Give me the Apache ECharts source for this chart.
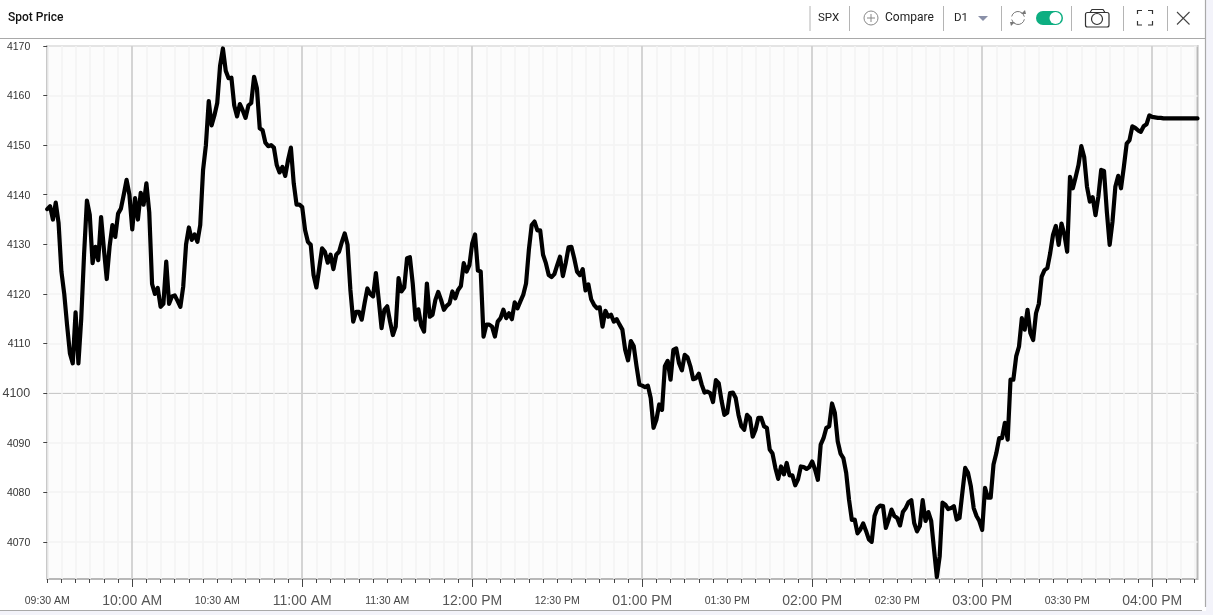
<!DOCTYPE html>
<html><head><meta charset="utf-8">
<style>html,body{margin:0;padding:0;background:#fff;overflow:hidden}#c{width:1213px;height:615px}</style>
<script src="https://cdn.jsdelivr.net/npm/echarts@6/dist/echarts.min.js"></script>
</head><body><div id="c"></div>
<script>
const priceValues = [
4137.1,4137.7,4135,4138.4,4134.3,4124.5,4120,4113.7,4108,4106,
4116.3,4106,4115,4128,4138.8,4136,4126.2,4129.5,4126.8,4135.5,
4129,4123,4129.5,4133.9,4131.5,4136.2,4137.2,4140,4143,4140,
4133,4139.3,4135,4140.4,4138,4142.3,4136.5,4122,4120,4121.2,
4117.4,4118,4126.5,4118,4119.5,4119.7,4118.6,4117.4,4121.5,4130,
4133.4,4130.9,4132,4130.5,4133.9,4145,4150,4158.9,4154,4156,
4158.5,4166,4169.5,4165,4163.5,4163.6,4158,4155.8,4158.3,4157,
4155.5,4158,4158.5,4163.8,4161.5,4153.4,4153,4150.5,4149.8,4150,
4149.5,4146,4144.5,4145.6,4143.8,4147,4149.5,4142.3,4138,4138,
4137.5,4132.9,4130.5,4129.9,4123.8,4121.3,4125.2,4129.2,4128.5,4126.3,
4127.9,4125,4127.9,4128.5,4130.5,4132.2,4129.9,4120.8,4114.4,4116.4,
4116.4,4114.8,4118.1,4121.1,4120,4119.5,4124.2,4118.8,4113.1,4116.8,
4117.5,4114.4,4111.7,4113.4,4123.2,4120.5,4121.3,4127.2,4127.4,4122.1,
4114.8,4116.9,4113.6,4112.4,4122.1,4115.4,4115.8,4118.8,4120.4,4118.8,
4116.8,4117.6,4118.1,4120.5,4119.1,4120.8,4121.6,4126.2,4124.5,4125.8,
4130.2,4132,4124.7,4124.5,4111.4,4113.8,4113.8,4113.4,4111.4,4114.4,
4115.1,4116.8,4115.1,4116.1,4114.9,4118.3,4117.1,4118.5,4119.8,4122.1,
4128.9,4133.9,4134.6,4132.8,4132.8,4127.9,4126.2,4123.8,4123.4,4124,
4125.8,4127.5,4123.6,4126.2,4129.4,4129.5,4127.2,4124.5,4123.8,4125,
4120.7,4121.9,4118.9,4117.8,4117.1,4117.3,4113.4,4116.6,4115.4,4115.8,
4114.4,4114.9,4113.8,4112.8,4108.7,4106.6,4110.5,4109.5,4105.4,4101.7,
4101.5,4101.2,4101.5,4099,4093,4094.6,4097.7,4096.6,4105.4,4106.5,
4102.7,4108.7,4109,4106,4104.6,4107.7,4107.2,4105.4,4102.8,4103,
4103.9,4101.7,4100.1,4100.3,4100,4098.2,4102.6,4102,4098.5,4095.6,
4096,4100,4100.1,4099,4095.6,4093.3,4092.6,4095.6,4095,4091.2,
4092.6,4095,4095,4093.3,4093,4088.6,4087.8,4084.9,4082.7,4085.2,
4083.6,4085.9,4083.4,4083.4,4081.4,4082.6,4085.2,4085.1,4084.7,4085.1,
4086.2,4084.6,4082.5,4089.6,4090.9,4093,4093.3,4097.9,4096,4090.3,
4087.8,4086.9,4083.9,4078.5,4074.4,4074.5,4071.7,4072.5,4073.7,4072.2,
4070.5,4070,4075.2,4076.8,4077.3,4077.2,4072.8,4074.5,4076.5,4075.2,
4074.8,4073.3,4076,4076.8,4078,4078.4,4073.8,4072.1,4073.2,4078.4,
4074.2,4076,4074.2,4068.5,4062.9,4067.1,4077.9,4077.5,4076.6,4076.8,
4077.2,4074.5,4074.8,4079.9,4084.9,4083.9,4081.2,4076.8,4075.2,4074.2,
4072.4,4080.9,4078.9,4078.9,4085.6,4087.9,4090.9,4090.9,4094,4090.6,
4102.7,4102.7,4107.4,4109.4,4115.1,4112.8,4116.8,4112.1,4110.7,4116.1,
4118,4123.5,4124.8,4125.2,4128.2,4131.9,4133.7,4129.9,4134.2,4132,
4128.5,4143.6,4141.3,4143.6,4146,4149.8,4147.6,4141.6,4138.6,4139.5,
4135.9,4139.6,4145,4144.8,4136.6,4129.9,4134.6,4141.6,4143.8,4141.3,
4145.6,4150.3,4151,4153.8,4153.5,4153,4152.7,4153.8,4154.2,4156,
4155.7,4155.6,4155.5,4155.5,4155.4,4155.4,4155.4,4155.4,4155.4,4155.4,
4155.4,4155.4,4155.4,4155.4,4155.4,4155.4,4155.4
];
const minuteLabels = [];
for (let i = 0; i < priceValues.length; i++) {
  const total = 570 + i, h24 = Math.floor(total / 60), mm = total % 60;
  const h12 = h24 > 12 ? h24 - 12 : h24;
  minuteLabels.push(String(h12).padStart(2, '0') + ':' + String(mm).padStart(2, '0') + (h24 >= 12 ? ' PM' : ' AM'));
}
const yTicks = [4070,4080,4090,4100,4110,4120,4130,4140,4150,4160,4170];
const yMajor = [4100];
const yMin = 4062.5, yMax = 4170;
const F = '"Liberation Sans", Arial, sans-serif', R = 'Roboto, "Liberation Sans", sans-serif';

const line = (x1, y1, x2, y2, stroke, lineWidth) => ({type:'line', silent:true, shape:{x1,y1,x2,y2}, style:{stroke, lineWidth: lineWidth||1}});
const txt = (x, y, text, fontSize, fill, fontWeight) => ({type:'text', silent:true, x, y, style:{text, fontSize, fontFamily:R, fontWeight:fontWeight||400, fill, textVerticalAlign:'middle'}});
const graphics = [
  {type:'rect', silent:true, z:-5, shape:{x:0,y:611,width:1213,height:4}, style:{fill:'#f3f3fa'}},
  {type:'rect', silent:true, z:-5, shape:{x:1206,y:0,width:7,height:615}, style:{fill:'#f3f3fa'}},
  line(0,38.5,1205,38.5,'#a9a9a9',1.2),
  line(0,610.5,1202,610.5,'#a9a9a9',1.2),
  line(1205.5,0,1205.5,607,'#a9a9a9',1.2),
  txt(8,18,'Spot Price',12,'#111',500),
  txt(818,18,'SPX',11.5,'#222'),
  txt(885,18,'Compare',12,'#222'),
  txt(954,18,'D1',11.5,'#222'),
  {type:'polygon', silent:true, shape:{points:[[978,16],[988,16],[983,21]]}, style:{fill:'#8a90a8'}},
  {type:'circle', silent:true, shape:{cx:871,cy:18,r:7}, style:{fill:'none',stroke:'#888',lineWidth:1}},
  line(867,18,875,18,'#888',1), line(871,14,871,22,'#888',1),
  {type:'arc', silent:true, shape:{cx:1018,cy:18,r:6.5,startAngle:-2.9,endAngle:-0.2}, style:{fill:'none',stroke:'#777',lineWidth:1}},
  {type:'arc', silent:true, shape:{cx:1018,cy:18,r:6.5,startAngle:0.2,endAngle:2.9}, style:{fill:'none',stroke:'#777',lineWidth:1}},
  {type:'polygon', silent:true, shape:{points:[[1021,14],[1026,14],[1025,10]]}, style:{fill:'#777'}},
  {type:'polygon', silent:true, shape:{points:[[1010,22],[1015,22],[1011,26]]}, style:{fill:'#777'}},
  {type:'rect', silent:true, shape:{x:1036,y:11,width:27,height:14,r:7}, style:{fill:'#0dae81'}},
  {type:'circle', silent:true, shape:{cx:1055.5,cy:18,r:6}, style:{fill:'#fff'}},
  {type:'rect', silent:true, shape:{x:1085.5,y:12.5,width:23.5,height:14.5,r:2}, style:{fill:'none',stroke:'#333',lineWidth:1.2}},
  {type:'polyline', silent:true, shape:{points:[[1090,12.5],[1092,9.5],[1103,9.5],[1105,12.5]]}, style:{fill:'none',stroke:'#333',lineWidth:1.2}},
  {type:'circle', silent:true, shape:{cx:1097,cy:19,r:5.5}, style:{fill:'none',stroke:'#333',lineWidth:1.2}},
  {type:'polyline', silent:true, shape:{points:[[1137.5,14],[1137.5,10.5],[1142,10.5]]}, style:{fill:'none',stroke:'#333',lineWidth:1.2}},
  {type:'polyline', silent:true, shape:{points:[[1148,10.5],[1152.5,10.5],[1152.5,14]]}, style:{fill:'none',stroke:'#333',lineWidth:1.2}},
  {type:'polyline', silent:true, shape:{points:[[1137.5,21],[1137.5,25],[1142,25]]}, style:{fill:'none',stroke:'#333',lineWidth:1.2}},
  {type:'polyline', silent:true, shape:{points:[[1148,25],[1152.5,25],[1152.5,21]]}, style:{fill:'none',stroke:'#333',lineWidth:1.2}},
  line(1177,12,1189.5,24.5,'#444',1.1), line(1189.5,12,1177,24.5,'#444',1.1)
];
[810,849.5,943.5,1001.5,1071.5,1123.5,1167.5].forEach(x => graphics.push(line(x,6,x,31,'#b4b4b4',1)));

const chart = echarts.init(document.getElementById('c'), null, {renderer:'canvas'});
chart.setOption({
  animation:false,
  backgroundColor:'#ffffff',
  graphic:graphics,
  grid:{left:47.25,right:15.5,top:46,bottom:36,outerBoundsMode:'none',show:true,backgroundColor:'#fcfcfc',borderColor:'#b8b8b8',borderWidth:2,containLabel:false},
  xAxis:[
    {type:'category',position:'bottom',data:minuteLabels,boundaryGap:false,
     axisLine:{show:false,onZero:false},
     axisTick:{show:true,interval:i=>i%5===0,length:4,lineStyle:{color:'#444',width:1}},
     splitLine:{show:true,interval:i=>i%5===0,lineStyle:{color:'#f3f3f3',width:1.5}},
     axisLabel:{show:true,interval:i=>i%30===0,margin:14,hideOverlap:false,
       formatter:v=>v.slice(3,5)==='00'?'{big|'+v+'}':'{small|'+v+'}',
       rich:{big:{fontSize:14,lineHeight:16,fontFamily:F,color:'#555'},small:{fontSize:10.5,lineHeight:16,fontFamily:F,color:'#444'}}}},
    {type:'category',position:'bottom',data:minuteLabels,boundaryGap:false,
     axisLine:{show:false,onZero:false},
     axisTick:{show:true,interval:i=>i%60===30,length:8,lineStyle:{color:'#444',width:1}},
     splitLine:{show:true,interval:i=>i%60===30,lineStyle:{color:'#c9c9c9',width:1.5}},
     axisLabel:{show:false}}
  ],
  yAxis:[
    {type:'value',min:yMin,max:yMax,scale:true,
     axisLine:{show:false,onZero:false},
     axisTick:{show:true,length:4,customValues:yTicks,lineStyle:{color:'#444',width:1}},
     splitLine:{show:true,lineStyle:{color:'#f3f3f3',width:1.5}},
     axisLabel:{show:true,margin:17,customValues:yTicks,
       formatter:v=>yMajor.includes(v)?'{big|'+v+'}':'{small|'+v+'}',
       rich:{big:{fontSize:12.5,fontFamily:F,color:'#444'},small:{fontSize:10.5,fontFamily:F,color:'#333',padding:[2,0,0,0]}}}},
    {type:'value',position:'left',min:yMin,max:yMax,scale:true,
     axisLine:{show:false,onZero:false},
     axisTick:{show:false,customValues:yMajor},
     splitLine:{show:true,lineStyle:{color:'#c9c9c9',width:1.2}},
     axisLabel:{show:false,customValues:yMajor}}
  ],
  series:[{type:'line',name:'SPX',xAxisIndex:0,yAxisIndex:0,data:priceValues,showSymbol:false,smooth:false,z:5,
    lineStyle:{color:'#000',width:4.2,join:'round',cap:'round'}}]
});
</script></body></html>
